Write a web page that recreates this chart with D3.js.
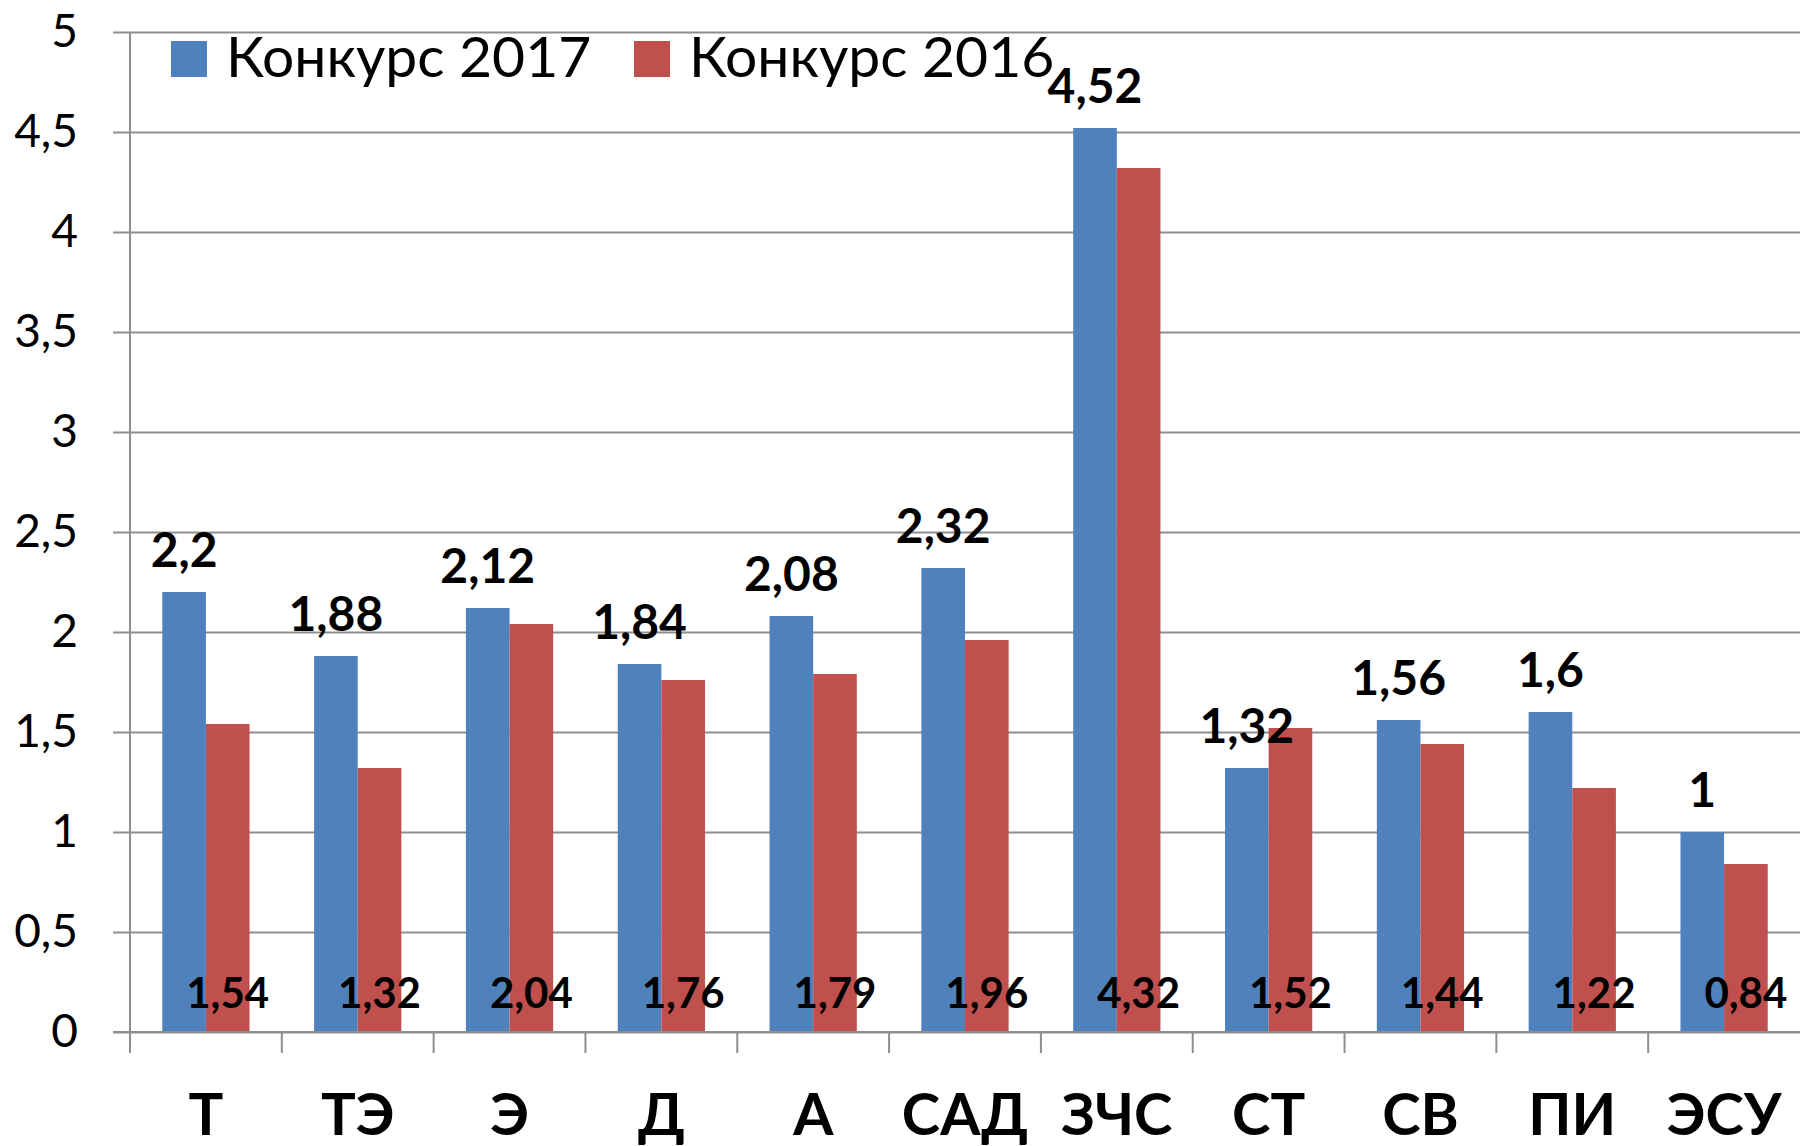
<!DOCTYPE html>
<html>
<head>
  <meta charset="utf-8">
  <script src="https://d3js.org/d3.v7.min.js"></script>
  <style>
    body { margin: 0; background: white; }
    text { font-family: Lato, "Open Sans", sans-serif; fill: black; }
  </style>
</head>
<body>
  <svg id="chart" width="1800" height="1146" style="background: white;"></svg>
  <script>
    // data
    const categories = ["Т", "ТЭ", "Э", "Д", "А", "САД", "ЗЧС", "СТ", "СВ", "ПИ", "ЭСУ"];
    const values2017 = [2.2, 1.88, 2.12, 1.84, 2.08, 2.32, 4.52, 1.32, 1.56, 1.6, 1];
    const values2016 = [1.54, 1.32, 2.04, 1.76, 1.79, 1.96, 4.32, 1.52, 1.44, 1.22, 0.84];
    const seriesNames = ["Конкурс 2017", "Конкурс 2016"];
    const yTicks = [0, 0.5, 1, 1.5, 2, 2.5, 3, 3.5, 4, 4.5, 5];

    const colors = ["#4f81bd", "#c0504d"];
    const ru = d3.formatLocale({ decimal: ",", thousands: " ", grouping: [3], currency: ["", ""] });
    const fmt = v => ru.format("~g")(v);

    const svg = d3.select("svg#chart");
    const plotLeft = 130, plotRight = 1800, plotTop = 32, plotBottom = 1032;

    const x = d3.scaleBand().domain(categories).range([plotLeft, plotRight]).paddingInner(0).paddingOuter(0);
    const xs = d3.scaleBand().domain([0, 1]).range([0, x.bandwidth()]).paddingInner(0).paddingOuter(0.74);
    const y = d3.scaleLinear().domain([0, 5]).range([plotBottom, plotTop]);

    // gridlines (also the small ticks left of the axis)
    const grid = svg.append("g")
      .attr("transform", `translate(${plotRight},0)`)
      .call(d3.axisLeft(y).tickValues(yTicks).tickSize(plotRight - 113).tickFormat(""));
    grid.select(".domain").remove();
    grid.selectAll("line").attr("stroke", "#8e8e8e").attr("stroke-width", 2);

    // y labels
    const yAx = svg.append("g")
      .attr("transform", `translate(${plotLeft},0)`)
      .call(d3.axisLeft(y).tickValues(yTicks).tickSize(0).tickPadding(52).tickFormat(fmt));
    yAx.select(".domain").remove();
    yAx.selectAll("text").style("font-size", "46px").attr("fill", "black");

    // bars
    const rows = categories.map((c, i) => ({ cat: c, vals: [values2017[i], values2016[i]] }));
    const groups = svg.append("g").selectAll("g").data(rows).join("g")
      .attr("transform", d => `translate(${x(d.cat)},0)`);
    groups.selectAll("rect").data(d => d.vals).join("rect")
      .attr("x", (d, i) => xs(i))
      .attr("width", xs.bandwidth())
      .attr("y", d => y(d))
      .attr("height", d => y(0) - y(d))
      .attr("fill", (d, i) => colors[i]);

    // axis lines
    svg.append("line")
      .attr("x1", plotLeft).attr("x2", plotLeft).attr("y1", plotTop).attr("y2", plotBottom + 21)
      .attr("stroke", "#8e8e8e").attr("stroke-width", 2);
    svg.append("line")
      .attr("x1", 113).attr("x2", plotRight).attr("y1", plotBottom).attr("y2", plotBottom)
      .attr("stroke", "#8e8e8e").attr("stroke-width", 2);
    svg.append("g").selectAll("line").data(categories.slice(1)).join("line")
      .attr("x1", d => x(d)).attr("x2", d => x(d))
      .attr("y1", plotBottom).attr("y2", plotBottom + 21)
      .attr("stroke", "#8e8e8e").attr("stroke-width", 2);

    // value labels
    groups.append("text")
      .attr("x", xs(0) + xs.bandwidth() / 2)
      .attr("y", d => y(d.vals[0]) - 25)
      .attr("text-anchor", "middle")
      .style("font-size", "48px").style("font-weight", "bold")
      .text(d => fmt(d.vals[0]));
    groups.append("text")
      .attr("x", xs(1) + xs.bandwidth() / 2)
      .attr("y", 1008)
      .attr("text-anchor", "middle")
      .style("font-size", "42px").style("font-weight", "bold")
      .text(d => fmt(d.vals[1]));

    // category labels
    const xAx = svg.append("g")
      .attr("transform", `translate(0,${plotBottom})`)
      .call(d3.axisBottom(x).tickSize(0).tickPadding(0));
    xAx.select(".domain").remove();
    xAx.selectAll("text")
      .attr("y", 103).attr("dy", null)
      .attr("fill", "black")
      .style("font-size", "58px").style("font-weight", "bold");

    // legend
    const legX = [171, 634];
    const leg = svg.append("g").selectAll("g").data(seriesNames).join("g")
      .attr("transform", (d, i) => `translate(${legX[i]},41)`);
    leg.append("rect").attr("width", 36).attr("height", 36).attr("fill", (d, i) => colors[i]);
    leg.append("text").attr("x", 55).attr("y", 36)
      .style("font-size", "57px").text(d => d);
  </script>
</body>
</html>
